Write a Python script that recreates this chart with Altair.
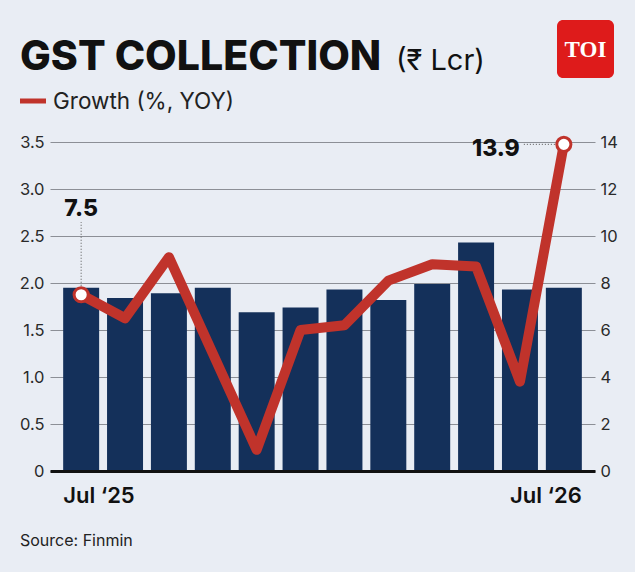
import altair as alt
import pandas as pd

# ---- data -------------------------------------------------------------
months = ["Jul ‘25", "Aug ‘25", "Sep ‘25", "Oct ‘25", "Nov ‘25", "Dec ‘25",
          "Jan ‘26", "Feb ‘26", "Mar ‘26", "Apr ‘26", "May ‘26", "Jun ‘26"]
gst_lcr = [1.95, 1.84, 1.89, 1.95, 1.69, 1.74, 1.93, 1.82, 1.99, 2.43, 1.93, 1.95]
growth_pct = [7.5, 6.5, 9.1, 5.0, 0.9, 6.0, 6.2, 8.1, 8.8, 8.7, 3.8, 13.9]

edge_labels = ["Jul ‘25", "Jul ‘26"]
left_ticks = [0, 0.5, 1.0, 1.5, 2.0, 2.5, 3.0, 3.5]
right_ticks = [0, 2, 4, 6, 8, 10, 12, 14]

title_text = "GST COLLECTION"
unit_text = "(₹ Lcr)"
legend_text = "Growth (%, YOY)"
source_text = "Source: Finmin"
logo_text = "TOI"

# ---- style ------------------------------------------------------------
BG = "#E9EDF4"
NAVY = "#14305A"
RED = "#C0332B"
FONT = "Inter, Noto Sans, DejaVu Sans, sans-serif"
W, H = 545, 329

df = pd.DataFrame({"month": months, "gst": gst_lcr, "growth": growth_pct,
                   "idx": list(range(len(months)))})
first_i, last_i = 0, len(months) - 1

x_enc = alt.X("month:N", sort=months,
              scale=alt.Scale(paddingInner=0.18, paddingOuter=0.3),
              axis=alt.Axis(labels=False, ticks=False, title=None, domain=True,
                            domainColor="#111111", domainWidth=3, zindex=1))
right_scale = alt.Scale(domain=[0, 14], nice=False)
no_axis_growth = alt.Y("growth:Q", scale=right_scale, axis=None)

base = alt.Chart(df)

bars = base.mark_bar(color=NAVY).encode(
    x=x_enc,
    y=alt.Y("gst:Q", scale=alt.Scale(domain=[0, 3.5], nice=False),
            axis=alt.Axis(values=left_ticks, grid=True, gridColor="#8C8F96",
                          gridWidth=1, domain=False, ticks=False, title=None,
                          labelPadding=6, labelFont=FONT, labelFontSize=16.5,
                          labelColor="#2A2A2A",
                          labelExpr="datum.value == 0 ? '0' : format(datum.value, '.1f')")),
)

line = base.mark_line(color=RED, strokeWidth=10, strokeJoin="round", strokeCap="butt").encode(
    x=alt.X("month:N", sort=months),
    y=alt.Y("growth:Q", scale=right_scale,
            axis=alt.Axis(values=right_ticks, orient="right", grid=False, domain=False,
                          ticks=False, title=None, labelPadding=5, labelFont=FONT,
                          labelFontSize=16.5, labelColor="#2A2A2A")),
)

# dotted leaders from the end values to their labels
lead_first = base.transform_filter(alt.datum.idx == first_i).mark_rule(
    color="#555555", strokeWidth=1, strokeDash=[1, 2]).encode(
    x=alt.X("month:N", sort=months), y=no_axis_growth, y2=alt.value(80))
lead_last = base.transform_filter(alt.datum.idx == last_i).mark_rule(
    color="#555555", strokeWidth=1, strokeDash=[1, 2]).encode(
    x=alt.X("month:N", sort=months), x2=alt.value(473), y=no_axis_growth)

ends = base.transform_filter(
    (alt.datum.idx == first_i) | (alt.datum.idx == last_i)).mark_point(
    filled=True, fill="white", stroke=RED, strokeWidth=3, size=200, opacity=1).encode(
    x=alt.X("month:N", sort=months), y=no_axis_growth)

lab_first = base.transform_filter(alt.datum.idx == first_i).mark_text(
    font=FONT, fontSize=23, fontWeight=800, color="#111111", align="center",
    baseline="alphabetic", dy=-79).encode(
    x=alt.X("month:N", sort=months), y=no_axis_growth,
    text=alt.Text("growth:Q", format=".1f"))
lab_last = base.transform_filter(alt.datum.idx == last_i).mark_text(
    font=FONT, fontSize=23, fontWeight=800, color="#111111", align="right",
    baseline="middle", dx=-44, dy=5).encode(
    x=alt.X("month:N", sort=months), y=no_axis_growth,
    text=alt.Text("growth:Q", format=".1f"))

# first / last month under the axis
edge_df = pd.DataFrame({"month": [months[first_i], months[last_i]],
                        "label": edge_labels, "side": ["left", "right"]})
edge_left = alt.Chart(edge_df).transform_filter(alt.datum.side == "left").mark_text(
    font=FONT, fontSize=22, fontWeight=600, color="#111111", align="left",
    baseline="alphabetic").encode(
    x=alt.X("month:N", sort=months, bandPosition=0), y=alt.value(361), text="label:N")
edge_right = alt.Chart(edge_df).transform_filter(alt.datum.side == "right").mark_text(
    font=FONT, fontSize=22, fontWeight=600, color="#111111", align="right",
    baseline="alphabetic").encode(
    x=alt.X("month:N", sort=months, bandPosition=1), y=alt.value(361), text="label:N")


def label(text, x, y, size, weight=400, color="#111111", align="left", font=FONT):
    return alt.Chart(pd.DataFrame({"t": [text]})).mark_text(
        font=font, fontSize=size, fontWeight=weight, color=color, align=align,
        baseline="alphabetic").encode(x=alt.value(x), y=alt.value(y), text="t:N")


title = label(title_text, -30, -72, 41, 800)
unit = label(unit_text, 346, -72, 29, 400)
legend_txt = label(legend_text, 3, -33, 22.5, 400, "#222222")
legend_key = alt.Chart(pd.DataFrame({"k": [legend_text]})).mark_rule(
    color=RED, strokeWidth=5).encode(x=alt.value(-30), x2=alt.value(-4), y=alt.value(-41))
source = label(source_text, -30, 404, 16, 400, "#222222")

logo_box = alt.Chart(pd.DataFrame({"k": [logo_text]})).mark_rect(
    color="#DE1B1B", cornerRadius=6).encode(
    x=alt.value(507), x2=alt.value(564), y=alt.value(-122), y2=alt.value(-64))
logo = label(logo_text, 535.5, -85, 23, 700, "white", "center",
             "Liberation Serif, DejaVu Serif, serif")

chart = alt.layer(
    bars, line, lead_first, lead_last, ends, lab_first, lab_last,
    edge_left, edge_right, title, unit, legend_key, legend_txt, source,
    logo_box, logo,
).resolve_scale(y="independent").properties(
    width=W, height=H,
    autosize=alt.AutoSizeParams(type="none"),
    padding={"left": 50, "top": 142, "right": 40, "bottom": 101},
    background=BG,
).configure_view(stroke=None)

chart.save("out.html", embed_options={"renderer": "svg", "actions": False})
